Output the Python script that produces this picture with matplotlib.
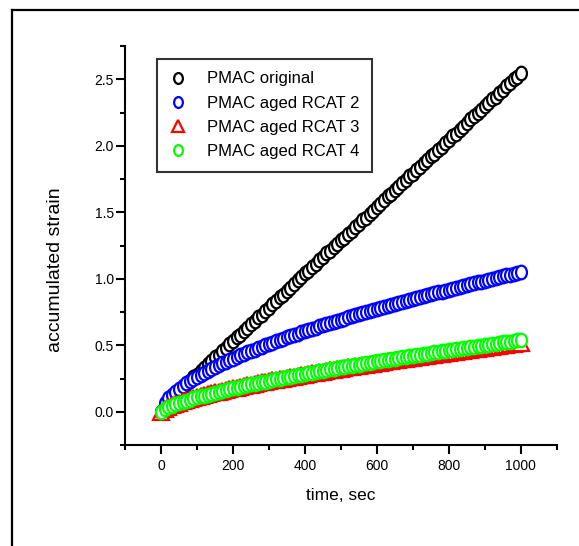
import numpy as np
import matplotlib
matplotlib.use("Agg")
import matplotlib.pyplot as plt
from matplotlib.path import Path
from matplotlib.lines import Line2D
from matplotlib.ticker import MultipleLocator, FormatStrFormatter

plt.rcParams['font.family'] = ['Liberation Sans', 'DejaVu Sans']

time_s = list(range(0, 1001, 10))

pmac_original = [
    0.00, 0.04, 0.07, 0.10, 0.13, 0.16, 0.18, 0.21, 0.23, 0.26,
    0.28, 0.305, 0.33, 0.36, 0.38, 0.41, 0.43, 0.46, 0.48, 0.51,
    0.53, 0.56, 0.58, 0.61, 0.63, 0.66, 0.68, 0.71, 0.73, 0.76,
    0.78, 0.81, 0.83, 0.86, 0.88, 0.91, 0.93, 0.96, 0.99, 1.01,
    1.04, 1.06, 1.09, 1.11, 1.14, 1.16, 1.19, 1.21, 1.24, 1.26,
    1.29, 1.31, 1.34, 1.36, 1.39, 1.41, 1.44, 1.46, 1.49, 1.51,
    1.54, 1.56, 1.59, 1.62, 1.64, 1.67, 1.69, 1.72, 1.74, 1.77,
    1.79, 1.82, 1.84, 1.87, 1.89, 1.92, 1.94, 1.97, 1.99, 2.02,
    2.04, 2.07, 2.09, 2.12, 2.14, 2.17, 2.20, 2.22, 2.25, 2.27,
    2.30, 2.32, 2.35, 2.37, 2.40, 2.42, 2.45, 2.47, 2.50, 2.52,
    2.55]

pmac_rcat2 = [
    0.000, 0.066, 0.100, 0.128, 0.152, 0.174, 0.194, 0.213, 0.231, 0.248,
    0.264, 0.279, 0.294, 0.309, 0.323, 0.336, 0.350, 0.363, 0.375, 0.388,
    0.400, 0.412, 0.424, 0.435, 0.446, 0.457, 0.468, 0.478, 0.489, 0.499,
    0.510, 0.520, 0.530, 0.540, 0.550, 0.559, 0.569, 0.578, 0.587, 0.597,
    0.606, 0.615, 0.624, 0.633, 0.642, 0.650, 0.659, 0.667, 0.676, 0.684,
    0.693, 0.701, 0.709, 0.717, 0.725, 0.733, 0.741, 0.749, 0.757, 0.765,
    0.773, 0.780, 0.788, 0.796, 0.803, 0.811, 0.818, 0.826, 0.833, 0.840,
    0.848, 0.855, 0.862, 0.869, 0.876, 0.883, 0.890, 0.897, 0.904, 0.911,
    0.918, 0.925, 0.932, 0.939, 0.946, 0.952, 0.959, 0.966, 0.972, 0.979,
    0.986, 0.992, 0.999, 1.005, 1.012, 1.018, 1.025, 1.031, 1.037, 1.044,
    1.050]

pmac_rcat3 = [
    0.000, 0.024, 0.038, 0.049, 0.060, 0.069, 0.078, 0.087, 0.095, 0.103,
    0.110, 0.117, 0.124, 0.131, 0.138, 0.145, 0.151, 0.157, 0.164, 0.170,
    0.176, 0.181, 0.187, 0.193, 0.198, 0.204, 0.209, 0.215, 0.220, 0.225,
    0.230, 0.235, 0.240, 0.245, 0.250, 0.255, 0.260, 0.265, 0.270, 0.274,
    0.279, 0.284, 0.288, 0.293, 0.297, 0.302, 0.306, 0.311, 0.315, 0.320,
    0.324, 0.328, 0.333, 0.337, 0.341, 0.345, 0.350, 0.354, 0.358, 0.362,
    0.366, 0.370, 0.374, 0.378, 0.382, 0.386, 0.390, 0.394, 0.398, 0.402,
    0.406, 0.410, 0.414, 0.418, 0.422, 0.426, 0.430, 0.434, 0.437, 0.441,
    0.445, 0.449, 0.453, 0.456, 0.460, 0.464, 0.468, 0.471, 0.475, 0.479,
    0.482, 0.486, 0.490, 0.493, 0.497, 0.500, 0.504, 0.508, 0.511, 0.515,
    0.520]

pmac_rcat4 = [
    0.000, 0.021, 0.035, 0.046, 0.057, 0.066, 0.075, 0.084, 0.092, 0.100,
    0.108, 0.115, 0.122, 0.129, 0.136, 0.143, 0.150, 0.156, 0.163, 0.169,
    0.175, 0.181, 0.187, 0.193, 0.199, 0.205, 0.210, 0.216, 0.222, 0.227,
    0.232, 0.238, 0.243, 0.248, 0.254, 0.259, 0.264, 0.269, 0.274, 0.279,
    0.284, 0.289, 0.294, 0.299, 0.304, 0.309, 0.313, 0.318, 0.323, 0.328,
    0.333, 0.337, 0.342, 0.346, 0.351, 0.355, 0.360, 0.364, 0.369, 0.373,
    0.378, 0.382, 0.386, 0.391, 0.395, 0.400, 0.404, 0.408, 0.412, 0.416,
    0.421, 0.425, 0.429, 0.433, 0.437, 0.442, 0.446, 0.450, 0.454, 0.458,
    0.462, 0.466, 0.470, 0.474, 0.478, 0.482, 0.486, 0.490, 0.494, 0.497,
    0.501, 0.505, 0.509, 0.513, 0.517, 0.521, 0.525, 0.528, 0.532, 0.536,
    0.540]

series_labels = ["PMAC original", "PMAC aged RCAT 2", "PMAC aged RCAT 3", "PMAC aged RCAT 4"]
series_colors = ["black", "#0000ff", "#ff0000", "#00ff00"]

# tall ellipse marker
circ = Path.unit_circle()
ell = Path(circ.vertices * np.array([0.8, 1.0]), circ.codes)
series_markers = [ell, ell, "^", ell]
series_ms = [9.8, 9.8, 11.5, 9.8]

fig = plt.figure(figsize=(5.79, 5.46), dpi=100)
ax = fig.add_axes([125/579, 1-445/546, (556.7-125)/579, (445-46)/546])

for y, lab, col, mk, ms in zip([pmac_original, pmac_rcat2, pmac_rcat3, pmac_rcat4],
                               series_labels, series_colors, series_markers, series_ms):
    ax.plot(time_s, y, linestyle="none", marker=mk, markersize=ms,
            markerfacecolor="white", markeredgecolor=col, markeredgewidth=1.6,
            label=lab)

ax.set_xlim(-100, 1100)
ax.set_ylim(-0.25, 2.75)
ax.xaxis.set_major_locator(MultipleLocator(200))
ax.xaxis.set_minor_locator(MultipleLocator(100))
ax.yaxis.set_major_locator(MultipleLocator(0.5))
ax.yaxis.set_minor_locator(MultipleLocator(0.25))
ax.yaxis.set_major_formatter(FormatStrFormatter('%.1f'))

for s in ["top", "right"]:
    ax.spines[s].set_visible(False)
for s in ["left", "bottom"]:
    ax.spines[s].set_linewidth(1.5)

ax.tick_params(which="major", length=6.5, width=1.5, labelsize=10, direction="out")
ax.tick_params(which="minor", length=3.6, width=1.5, direction="out")
ax.tick_params(axis="y", which="major", pad=1.5)
ax.tick_params(axis="x", which="major", pad=3.5)

ax.set_xlabel("time, sec", fontsize=12.5, labelpad=11)
ax.set_ylabel("accumulated strain", fontsize=14)
ax.yaxis.set_label_coords((56-125)/431.7, (445-269.5)/399)
ax.yaxis.label.set_verticalalignment("center")

leg = ax.legend(loc="upper left", bbox_to_anchor=((156.7-125)/431.7, (445-59)/399),
                borderaxespad=0, frameon=True, fancybox=False, fontsize=12,
                numpoints=1, handlelength=1.0, handletextpad=1.25, borderpad=0.75,
                labelspacing=0.55, markerscale=0.8)
leg.get_frame().set_edgecolor("black")
leg.get_frame().set_linewidth(1.5)

# figure border (top and left edges visible)
fig.add_artist(Line2D([12/579, 1.0], [1-10/546, 1-10/546], transform=fig.transFigure,
                      color="black", linewidth=1.6))
fig.add_artist(Line2D([12/579, 12/579], [0.0, 1-10/546], transform=fig.transFigure,
                      color="black", linewidth=1.6))

fig.savefig("out.png", dpi=100)
